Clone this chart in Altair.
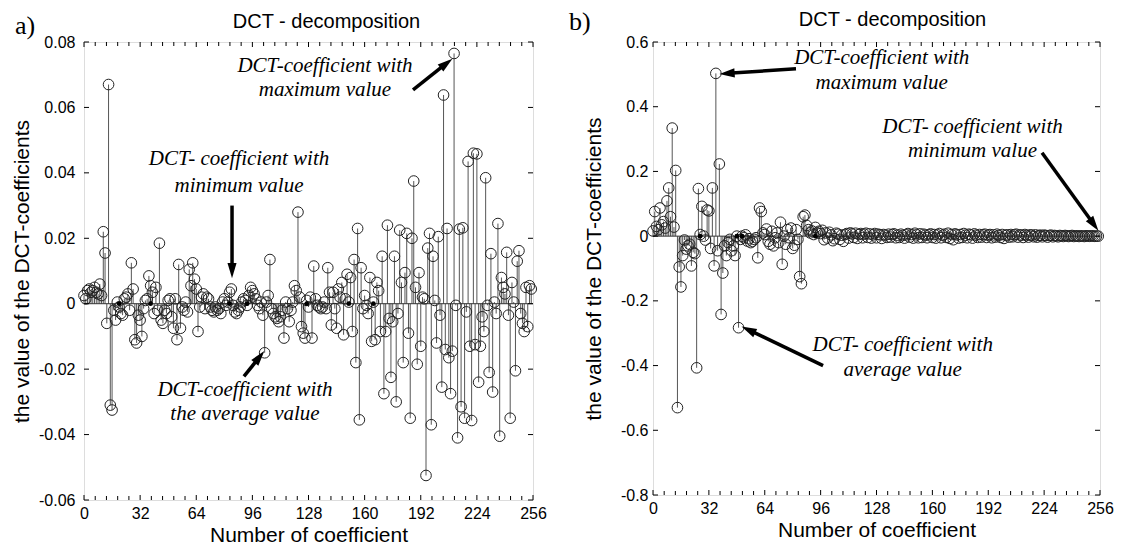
import math
import altair as alt
import pandas as pd

# ---------------- data ----------------
a_vals = [
    0.0025, 0.0015, 0.004, 0.0045, 0.0035, 0.004, 0.005, 0.0035, 0.003, 0.006, 0.0025, 0.022, 0.0155, -0.006, 0.067, -0.031,
    -0.0325, -0.002, -0.005, 0.0005, -0.001, -0.003, -0.0035, 0.0015, 0.002, 0.003, -0.002, 0.0125, 0.0045, -0.011, -0.012, -0.0035,
    -0.005, -0.01, -0.0015, 0.001, 0.0015, 0.0085, 0.0055, 0.0035, -0.003, 0.005, -0.002, 0.0185, -0.005, -0.006, -0.002, -0.003,
    0.001, 0.0015, -0.004, -0.0075, 0.0015, -0.011, 0.012, -0.0075, -0.001, -0.002, 0.0005, -0.0025, 0.0105, 0.0055, 0.0125, 0.0075,
    0.0045, -0.0085, -0.001, 0.002, 0.003, -0.0015, 0.002, 0.0015, -0.001, -0.002, -0.0025, -0.001, -0.002, -0.0015, -0.003, 0.0005,
    0.0015, -0.0005, 0.0005, 0.0035, 0.0045, -0.0005, -0.0025, -0.003, -0.002, -0.001, 0.0005, 0.0015, 0.001, -0.0005, 0.0025, 0.005,
    0.004, 0.003, 0.0015, -0.0005, -0.0015, 0.0005, -0.0035, -0.015, 0.0005, 0.0025, 0.0135, -0.0015, -0.003, -0.004, -0.0045, -0.0055,
    -0.004, -0.002, -0.0105, 0.0005, -0.0015, -0.0055, -0.002, 0.0005, 0.0055, 0.004, 0.028, 0.002, -0.007, -0.009, -0.0105, 0.001,
    -0.001, 0.002, -0.0105, 0.0115, 0.0015, -0.0005, -0.001, -0.0015, -0.001, 0.0005, -0.0015, 0.011, 0.0035, -0.0065, 0.0035, -0.0015,
    -0.0075, 0.0045, 0.002, 0.0065, -0.0095, 0.0015, 0.009, 0.0005, 0.008, -0.0085, 0.0135, -0.018, 0.023, -0.0355, 0.011, -0.0015,
    0.0025, -0.0005, -0.003, 0.008, -0.0115, 0.0005, -0.011, 0.0065, 0.004, -0.0085, 0.0145, -0.0275, -0.0085, 0.024, -0.0045, -0.0225,
    -0.0055, 0.0145, -0.03, -0.003, 0.0225, 0.0065, -0.018, 0.0095, 0.0215, -0.009, -0.035, 0.02, 0.0375, 0.005, -0.0185, 0.0095,
    -0.013, 0.002, 0.0015, -0.0525, 0.017, 0.0215, -0.037, 0.0145, 0.001, -0.012, 0.0205, -0.0035, -0.0255, 0.0638, -0.014, 0.023,
    -0.0165, -0.0275, -0.0145, 0.0765, -0.0005, -0.041, 0.0228, -0.0315, 0.0232, -0.035, -0.0025, 0.0435, -0.013, -0.0357, 0.046, -0.0125,
    0.0458, -0.024, -0.013, -0.004, -0.0085, 0.0385, -0.0005, -0.021, 0.0153, -0.027, 0.0005, -0.003, 0.0245, -0.0405, 0.008, 0.005,
    0.003, 0.0157, -0.0035, -0.035, 0.0065, 0.0005, -0.0205, 0.013, 0.0162, -0.003, -0.006, -0.0085, 0.005, -0.007, 0.0055, 0.0045,
]

b_vals = [
    0.016, 0.076, 0.03, 0.02, 0.087, 0.035, 0.045, 0.025, 0.109, 0.149, 0.06, 0.334, 0.028, 0.203, -0.53, -0.095,
    -0.157, -0.06, -0.012, -0.04, -0.03, -0.025, -0.092, -0.05, -0.054, -0.407, 0.147, 0.005, 0.092, 0.0, -0.012, 0.081,
    0.078, -0.038, 0.149, -0.092, 0.503, -0.045, 0.223, -0.242, -0.114, -0.03, -0.06, -0.02, -0.01, -0.045, -0.03, -0.06,
    0.0, -0.283, -0.01, 0.0, -0.005, 0.004, -0.015, -0.008, -0.02, -0.016, -0.01, -0.005, -0.067, 0.087, 0.076, 0.01,
    0.005, 0.022, -0.016, -0.025, 0.015, -0.03, -0.005, 0.01, -0.02, 0.043, -0.087, 0.0, -0.025, 0.02, -0.005, 0.025,
    -0.038, -0.028, 0.02, -0.01, -0.125, -0.147, 0.06, 0.065, 0.033, 0.02, 0.01, 0.016, 0.005, 0.027, 0.01, 0.015,
    0.008, 0.018, -0.011, 0.01, -0.006, 0.012, 0.004, -0.014, -0.008, 0.009, 0.006, -0.01, 0.003, -0.016, 0.005, 0.008,
    -0.006, 0.01, 0.007, -0.004, 0.009, -0.007, 0.005, 0.008, -0.005, 0.006, 0.009, -0.004, 0.007, -0.006, 0.004, 0.008,
    -0.005, 0.006, 0.004, -0.007, 0.005, 0.003, -0.004, 0.006, -0.003, 0.005, 0.007, -0.005, 0.003, -0.004, 0.006, 0.002,
    -0.006, 0.004, 0.008, -0.003, 0.005, -0.006, 0.009, 0.004, -0.005, 0.007, -0.004, 0.006, 0.003, -0.005, 0.004, 0.007,
    -0.004, 0.005, -0.006, 0.004, 0.008, -0.005, 0.003, 0.006, -0.004, 0.009, -0.007, 0.005, -0.011, 0.007, 0.004, -0.006,
    0.005, -0.004, 0.008, 0.003, -0.005, 0.006, 0.004, -0.006, 0.007, 0.003, -0.004, 0.005, -0.003, 0.004, 0.006, -0.004,
    0.003, 0.005, -0.005, 0.004, -0.003, 0.006, 0.002, -0.004, 0.005, -0.007, 0.003, 0.004, -0.003, 0.005, -0.002, 0.004,
    0.006, -0.003, 0.004, 0.003, -0.004, 0.005, 0.002, -0.003, 0.004, 0.003, -0.002, 0.004, -0.003, 0.002, 0.003, -0.002,
    0.003, 0.002, -0.003, 0.002, 0.003, -0.002, 0.002, 0.001, -0.002, 0.002, 0.001, -0.001, 0.002, 0.001, -0.001, 0.001,
    0.002, -0.001, 0.001, 0.001, -0.001, 0.001, 0.0005, -0.001, 0.001, 0.0005, -0.0005, 0.001, 0.0005, -0.0005, 0.0005, 0.0,
]

a_zero_dots = [20, 38, 83, 93, 127, 151, 165]
b_zero_dots = [27, 48, 51, 93]

x_major = [0, 32, 64, 96, 128, 160, 192, 224, 256]
x_minor = [6.4, 12.8, 19.2, 25.6]  # minor steps inside each 32 block
a_yticks = [-0.06, -0.04, -0.02, 0, 0.02, 0.04, 0.06, 0.08]
b_yticks = [-0.8, -0.6, -0.4, -0.2, 0, 0.2, 0.4, 0.6]

a_notes = ["DCT-coefficient with", "maximum value", "DCT- coefficient with", "minimum value",
           "DCT-coefficient with", "the average value"]
a_note_x = [137.4, 137.4, 88.4, 88.4, 91.8, 91.8]
a_note_y = [0.0727, 0.0654, 0.0443, 0.0361, -0.0264, -0.0338]
a_arrow_from = [(187.6, 0.0654), (84.4, 0.030), (91.2, -0.0222)]
a_arrow_to = [(209.8, 0.0748), (84.4, 0.008), (102.6, -0.0146)]

b_notes = ["DCT-coefficient with", "maximum value", "DCT- coefficient with", "minimum value",
           "DCT- coefficient with", "average value"]
b_note_x = [131, 131, 183, 183, 143, 143]
b_note_y = [0.551, 0.474, 0.338, 0.262, -0.335, -0.415]
b_arrow_from = [(81.9, 0.517), (222.8, 0.258), (97.4, -0.40)]
b_arrow_to = [(38.4, 0.5015), (254.9, 0.018), (51.0, -0.28)]

TITLE = "DCT - decomposition"
SANS = "Liberation Sans"
SERIF = "Liberation Serif"
HEAD = "M0,-1L0.6,1L-0.6,1Z"


def panel(vals, dots, ydom, yticks, W, H, notes, nx, ny, afrom, ato,
          label, lab_x, lab_y, title_dx, title_y, lab_pad, title_pad):
    xs = alt.Scale(domain=[0, 256], nice=False, zero=False)
    ys = alt.Scale(domain=ydom, nice=False, zero=False)
    df = pd.DataFrame({"i": list(range(len(vals))), "v": vals, "z": [0] * len(vals)})

    yaxis = alt.Axis(values=yticks, ticks=False, domain=False, grid=False,
                     labelFont=SANS, labelFontSize=16, labelColor="black",
                     labelPadding=lab_pad, labelExpr="'' + datum.value", labelFlush=False,
                     title="the value of the DCT-coefficients", titleFont=SANS,
                     titleFontSize=21, titleFontWeight="normal", titleColor="black",
                     titlePadding=title_pad)
    xaxis = alt.Axis(values=x_major, ticks=False, domain=False, grid=False,
                     labelFont=SANS, labelFontSize=16, labelColor="black",
                     labelPadding=5, labelFlush=False, labelOverlap=False,
                     title="Number of coefficient", titleFont=SANS,
                     titleFontSize=21, titleFontWeight="normal", titleColor="black",
                     titlePadding=3)

    stems = alt.Chart(df).mark_rule(color="#555", strokeWidth=1).encode(
        x=alt.X("i:Q", scale=xs, axis=xaxis),
        y=alt.Y("v:Q", scale=ys, axis=yaxis),
        y2="z:Q",
    )
    base = alt.Chart(pd.DataFrame({"x": [0], "x2": [256], "y": [0]})).mark_rule(
        color="#333", strokeWidth=1).encode(
        x=alt.X("x:Q", scale=xs), x2="x2:Q", y=alt.Y("y:Q", scale=ys))
    circles = alt.Chart(df).mark_point(shape="circle", filled=False, size=113,
                                       color="#222", strokeWidth=1, opacity=1).encode(
        x=alt.X("i:Q", scale=xs), y=alt.Y("v:Q", scale=ys))
    dotdf = pd.DataFrame({"i": dots, "z": [0] * len(dots)})
    dotl = alt.Chart(dotdf).mark_circle(size=22, color="black", opacity=1).encode(
        x=alt.X("i:Q", scale=xs), y=alt.Y("z:Q", scale=ys))

    # inward ticks
    majors = pd.DataFrame({"t": x_major})
    minors = pd.DataFrame({"t": [m + s for m in x_major[:-1] for s in x_minor]})
    ydf = pd.DataFrame({"t": yticks})
    tick_layers = []
    for d, L in ((majors, 5), (minors, 4)):
        tick_layers.append(alt.Chart(d).mark_rule(color="black", strokeWidth=1).encode(
            x=alt.X("t:Q", scale=xs), y=alt.value(H), y2=alt.value(H - L)))
        tick_layers.append(alt.Chart(d).mark_rule(color="black", strokeWidth=1).encode(
            x=alt.X("t:Q", scale=xs), y=alt.value(0), y2=alt.value(L)))
    tick_layers.append(alt.Chart(ydf).mark_rule(color="black", strokeWidth=1).encode(
        y=alt.Y("t:Q", scale=ys), x=alt.value(0), x2=alt.value(5)))
    tick_layers.append(alt.Chart(ydf).mark_rule(color="black", strokeWidth=1).encode(
        y=alt.Y("t:Q", scale=ys), x=alt.value(W), x2=alt.value(W - 5)))

    # annotations
    ndf = pd.DataFrame({"t": notes, "x": nx, "y": ny})
    texts = alt.Chart(ndf).mark_text(font=SERIF, fontStyle="italic", fontSize=21,
                                     color="black", align="center", baseline="middle").encode(
        x=alt.X("x:Q", scale=xs), y=alt.Y("y:Q", scale=ys), text="t:N")

    def px(x, y):
        return x / 256 * W, (ydom[1] - y) / (ydom[1] - ydom[0]) * H

    def dat(p, q):
        return p / W * 256, ydom[1] - q / H * (ydom[1] - ydom[0])

    rows = []
    for (sx, sy), (ex, ey) in zip(afrom, ato):
        p0 = px(sx, sy)
        p1 = px(ex, ey)
        dx, dy = p1[0] - p0[0], p1[1] - p0[1]
        n = math.hypot(dx, dy)
        ux, uy = dx / n, dy / n
        hc = dat(p1[0] - ux * 7, p1[1] - uy * 7)
        le = dat(p1[0] - ux * 8, p1[1] - uy * 8)
        ang = math.degrees(math.atan2(ux, -uy)) % 360
        rows.append({"x": sx, "y": sy, "x2": le[0], "y2": le[1],
                     "hx": hc[0], "hy": hc[1], "ang": ang})
    adf = pd.DataFrame(rows)
    shafts = alt.Chart(adf).mark_rule(color="black", strokeWidth=3.5).encode(
        x=alt.X("x:Q", scale=xs), y=alt.Y("y:Q", scale=ys), x2="x2:Q", y2="y2:Q")
    heads = alt.Chart(adf).mark_point(shape=HEAD, filled=True, size=230, color="black",
                                      opacity=1, strokeWidth=0).encode(
        x=alt.X("hx:Q", scale=xs), y=alt.Y("hy:Q", scale=ys),
        angle=alt.Angle("ang:Q", scale=None))

    lab = alt.Chart(pd.DataFrame({"t": [label]})).mark_text(
        font=SERIF, fontSize=26, color="black", align="left", baseline="middle").encode(
        text="t:N", x=alt.value(lab_x), y=alt.value(lab_y))
    ttl = alt.Chart(pd.DataFrame({"t": [TITLE]})).mark_text(
        font=SANS, fontSize=20, color="black", align="center", baseline="middle").encode(
        text="t:N", x=alt.value(W / 2 + title_dx), y=alt.value(title_y))

    return alt.layer(stems, base, circles, dotl, *tick_layers, texts, shafts, heads, lab, ttl).properties(
        width=W, height=H,
    )


pa = panel(a_vals, a_zero_dots, [-0.06, 0.08], a_yticks, 449, 458, a_notes, a_note_x, a_note_y,
           a_arrow_from, a_arrow_to, "a)", -69, -16, 18, -20, 9, 6)
pb = panel(b_vals, b_zero_dots, [-0.8, 0.6], b_yticks, 447, 453, b_notes, b_note_x, b_note_y,
           b_arrow_from, b_arrow_to, "b)", -84, -20, 16, -22, 5, 16)

chart = alt.hconcat(pa, pb, spacing=21).properties(
    padding={"left": 3, "top": 0, "right": 0, "bottom": 0}
).configure_view(stroke="black", strokeWidth=1).configure(background="white")

chart.save("out.html", embed_options={"renderer": "svg", "actions": False})
